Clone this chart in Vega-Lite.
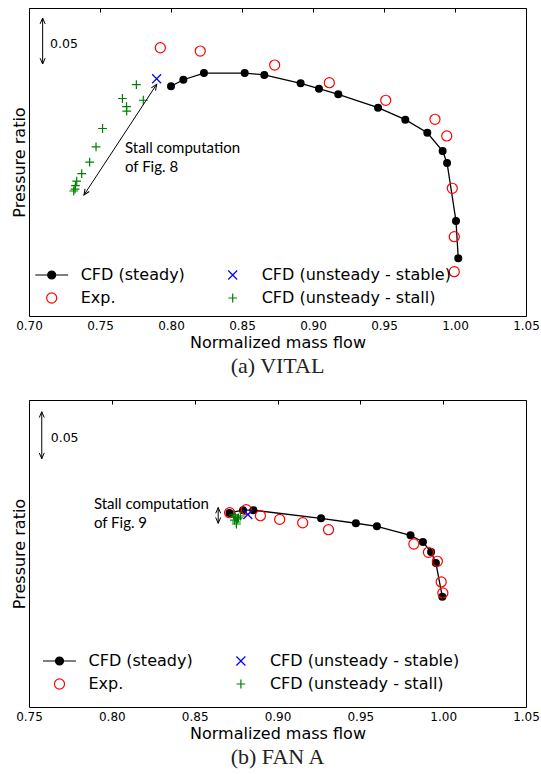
{
  "$schema": "https://vega.github.io/schema/vega-lite/v6.json",
  "padding": {"left": 10, "top": 7, "right": 0, "bottom": 0},
  "spacing": 21,
  "datasets": {
    "a_pts": [
      {"series": "CFD (steady)", "x": 0.8000, "y": 1.4497},
      {"series": "CFD (steady)", "x": 0.8087, "y": 1.4568},
      {"series": "CFD (steady)", "x": 0.8232, "y": 1.4641},
      {"series": "CFD (steady)", "x": 0.8519, "y": 1.4641},
      {"series": "CFD (steady)", "x": 0.8657, "y": 1.4620},
      {"series": "CFD (steady)", "x": 0.8913, "y": 1.4529},
      {"series": "CFD (steady)", "x": 0.9042, "y": 1.4471},
      {"series": "CFD (steady)", "x": 0.9178, "y": 1.4410},
      {"series": "CFD (steady)", "x": 0.9458, "y": 1.4264},
      {"series": "CFD (steady)", "x": 0.9650, "y": 1.4134},
      {"series": "CFD (steady)", "x": 0.9805, "y": 1.3992},
      {"series": "CFD (steady)", "x": 0.9913, "y": 1.3793},
      {"series": "CFD (steady)", "x": 0.9944, "y": 1.3663},
      {"series": "CFD (steady)", "x": 1.0007, "y": 1.3033},
      {"series": "CFD (steady)", "x": 1.0023, "y": 1.2627},
      {"series": "Exp.", "x": 0.7925, "y": 1.4916},
      {"series": "Exp.", "x": 0.8206, "y": 1.4880},
      {"series": "Exp.", "x": 0.8730, "y": 1.4728},
      {"series": "Exp.", "x": 0.9115, "y": 1.4536},
      {"series": "Exp.", "x": 0.9512, "y": 1.4345},
      {"series": "Exp.", "x": 0.9859, "y": 1.4138},
      {"series": "Exp.", "x": 0.9942, "y": 1.3957},
      {"series": "Exp.", "x": 0.9981, "y": 1.3388},
      {"series": "Exp.", "x": 0.9995, "y": 1.2862},
      {"series": "Exp.", "x": 0.9995, "y": 1.2482},
      {"series": "CFD (unsteady - stable)", "x": 0.7899, "y": 1.4579},
      {"series": "CFD (unsteady - stall)", "x": 0.7756, "y": 1.4514},
      {"series": "CFD (unsteady - stall)", "x": 0.7805, "y": 1.4345},
      {"series": "CFD (unsteady - stall)", "x": 0.7658, "y": 1.4364},
      {"series": "CFD (unsteady - stall)", "x": 0.7687, "y": 1.4277},
      {"series": "CFD (unsteady - stall)", "x": 0.7688, "y": 1.4228},
      {"series": "CFD (unsteady - stall)", "x": 0.7518, "y": 1.4038},
      {"series": "CFD (unsteady - stall)", "x": 0.7472, "y": 1.3839},
      {"series": "CFD (unsteady - stall)", "x": 0.7427, "y": 1.3672},
      {"series": "CFD (unsteady - stall)", "x": 0.7371, "y": 1.3547},
      {"series": "CFD (unsteady - stall)", "x": 0.7336, "y": 1.3467},
      {"series": "CFD (unsteady - stall)", "x": 0.7327, "y": 1.3418},
      {"series": "CFD (unsteady - stall)", "x": 0.7324, "y": 1.3380},
      {"series": "CFD (unsteady - stall)", "x": 0.7315, "y": 1.3359}
    ],
    "a_arrows": [
      {"kind": "scale", "x": 0.7096, "y": 1.5239, "x2": 0.7096, "y2": 1.4739},
      {"kind": "stall", "x": 0.7899, "y": 1.4518, "x2": 0.7387, "y2": 1.3315}
    ],
    "a_heads": [
      {"kind": "scale", "dir": "up", "x": 0.7096, "y": 1.5239},
      {"kind": "scale", "dir": "down", "x": 0.7096, "y": 1.4739},
      {"kind": "stall", "dir": "up", "x": 0.7899, "y": 1.4518},
      {"kind": "stall", "dir": "down", "x": 0.7387, "y": 1.3315}
    ],
    "a_text": [
      {"kind": "scale", "label": "0.05", "x": 0.7148, "y": 1.4953},
      {"kind": "note", "label": "Stall computation", "x": 0.7676, "y": 1.3826},
      {"kind": "note", "label": "of Fig. 8", "x": 0.7676, "y": 1.3623}
    ],
    "b_pts": [
      {"series": "CFD (steady)", "x": 0.8710, "y": 1.4064},
      {"series": "CFD (steady)", "x": 0.8792, "y": 1.4094},
      {"series": "CFD (steady)", "x": 0.8854, "y": 1.4094},
      {"series": "CFD (steady)", "x": 0.9263, "y": 1.4007},
      {"series": "CFD (steady)", "x": 0.9473, "y": 1.3955},
      {"series": "CFD (steady)", "x": 0.9600, "y": 1.3922},
      {"series": "CFD (steady)", "x": 0.9803, "y": 1.3827},
      {"series": "CFD (steady)", "x": 0.9878, "y": 1.3755},
      {"series": "CFD (steady)", "x": 0.9927, "y": 1.3649},
      {"series": "CFD (steady)", "x": 0.9956, "y": 1.3532},
      {"series": "CFD (steady)", "x": 0.9995, "y": 1.3172},
      {"series": "Exp.", "x": 0.8711, "y": 1.4067},
      {"series": "Exp.", "x": 0.8811, "y": 1.4099},
      {"series": "Exp.", "x": 0.8897, "y": 1.4035},
      {"series": "Exp.", "x": 0.9013, "y": 1.3996},
      {"series": "Exp.", "x": 0.9152, "y": 1.3960},
      {"series": "Exp.", "x": 0.9308, "y": 1.3886},
      {"series": "Exp.", "x": 0.9823, "y": 1.3734},
      {"series": "Exp.", "x": 0.9911, "y": 1.3646},
      {"series": "Exp.", "x": 0.9965, "y": 1.3550},
      {"series": "Exp.", "x": 0.9988, "y": 1.3330},
      {"series": "Exp.", "x": 0.9998, "y": 1.3213},
      {"series": "CFD (unsteady - stable)", "x": 0.8821, "y": 1.4048},
      {"series": "CFD (unsteady - stall)", "x": 0.8734, "y": 1.4043},
      {"series": "CFD (unsteady - stall)", "x": 0.8746, "y": 1.4021},
      {"series": "CFD (unsteady - stall)", "x": 0.8758, "y": 1.4000},
      {"series": "CFD (unsteady - stall)", "x": 0.8740, "y": 1.3989},
      {"series": "CFD (unsteady - stall)", "x": 0.8752, "y": 1.3968},
      {"series": "CFD (unsteady - stall)", "x": 0.8764, "y": 1.4011},
      {"series": "CFD (unsteady - stall)", "x": 0.8776, "y": 1.4032},
      {"series": "CFD (unsteady - stall)", "x": 0.8752, "y": 1.3947}
    ],
    "b_arrows": [
      {"kind": "scale", "x": 0.7577, "y": 1.5141, "x2": 0.7577, "y2": 1.4641},
      {"kind": "stall", "x": 0.8642, "y": 1.4122, "x2": 0.8642, "y2": 1.3954}
    ],
    "b_heads": [
      {"kind": "scale", "dir": "up", "x": 0.7577, "y": 1.5141},
      {"kind": "scale", "dir": "down", "x": 0.7577, "y": 1.4641},
      {"kind": "stall", "dir": "up", "x": 0.8642, "y": 1.4122},
      {"kind": "stall", "dir": "down", "x": 0.8642, "y": 1.3954}
    ],
    "b_text": [
      {"kind": "scale", "label": "0.05", "x": 0.7631, "y": 1.4859},
      {"kind": "note", "label": "Stall computation", "x": 0.7892, "y": 1.4160},
      {"kind": "note", "label": "of Fig. 9", "x": 0.7892, "y": 1.3954}
    ]
  },
  "resolve": {"scale": {"shape": "independent", "stroke": "independent", "fill": "independent"}},
  "vconcat": [
    {
      "width": 497,
      "height": 308,
      "title": {"text": "(a) VITAL", "orient": "bottom"},
      "encoding": {
        "x": {"field": "x", "type": "quantitative", "scale": {"domain": [0.7, 1.05], "nice": false, "zero": false}, "axis": null},
        "y": {"field": "y", "type": "quantitative", "scale": {"domain": [1.2, 1.5348], "nice": false, "zero": false},
              "axis": {"title": "Pressure ratio", "labels": false, "ticks": false, "domain": false, "titlePadding": 2, "minExtent": 0}}
      },
      "layer": [
        {
          "data": {"name": "a_pts"},
          "transform": [{"filter": "datum.series === 'CFD (steady)'"}],
          "mark": {"type": "line", "color": "black", "strokeWidth": 1.3},
          "encoding": {
            "x": {"field": "x", "type": "quantitative", "scale": {"domain": [0.7, 1.05], "nice": false, "zero": false},
                  "axis": {"orient": "bottom", "title": "Normalized mass flow", "values": [0.7, 0.75, 0.8, 0.85, 0.9, 0.95, 1.0, 1.05], "format": ".2f", "ticks": false, "domain": false, "labelFlush": false, "labelOverlap": false, "labelPadding": 4, "titlePadding": 3}}
          }
        },
        {
          "data": {"name": "a_pts"},
          "transform": [{"filter": "datum.series === 'CFD (steady)'"}],
          "mark": {"type": "circle", "color": "black", "size": 64, "opacity": 1},
          "encoding": {
            "x": {"field": "x", "type": "quantitative", "scale": {"domain": [0.7, 1.05], "nice": false, "zero": false},
                  "axis": {"orient": "top", "title": null, "values": [0.7, 0.75, 0.8, 0.85, 0.9, 0.95, 1.0, 1.05], "labels": false, "domain": false, "ticks": true, "tickSize": -4, "tickColor": "black"}}
          }
        },
        {
          "data": {"name": "a_pts"},
          "transform": [{"filter": "datum.series !== 'CFD (steady)'"}],
          "mark": {"type": "point", "size": 256, "strokeWidth": 1.2, "opacity": 1},
          "encoding": {
            "shape": {"field": "series", "type": "nominal",
              "scale": {"domain": ["CFD (steady)", "Exp.", "CFD (unsteady - stable)", "CFD (unsteady - stall)"],
                        "range": ["M-2.06,0L2.06,0M-0.5,0A0.5,0.5,0,1,1,0.5,0A0.5,0.5,0,1,1,-0.5,0", "M-0.63,0A0.63,0.63,0,1,1,0.63,0A0.63,0.63,0,1,1,-0.63,0", "M-0.56,-0.56L0.56,0.56M-0.56,0.56L0.56,-0.56", "M-0.55,0L0.55,0M0,-0.55L0,0.55"]},
              "legend": {"orient": "none", "legendX": 13.7, "legendY": 258, "columns": 2, "columnPadding": 38, "rowPadding": 6, "symbolSize": 256, "symbolStrokeWidth": 1.2, "labelOffset": 20, "title": null}},
            "stroke": {"field": "series", "type": "nominal",
              "scale": {"domain": ["CFD (steady)", "Exp.", "CFD (unsteady - stable)", "CFD (unsteady - stall)"], "range": ["black", "#ff0000", "#0000ff", "#008000"]},
              "legend": {"orient": "none", "legendX": 13.7, "legendY": 258, "columns": 2, "columnPadding": 38, "rowPadding": 6, "symbolSize": 256, "symbolStrokeWidth": 1.2, "labelOffset": 20, "title": null}},
            "fill": {"field": "series", "type": "nominal",
              "scale": {"domain": ["CFD (steady)", "Exp.", "CFD (unsteady - stable)", "CFD (unsteady - stall)"], "range": ["black", "transparent", "transparent", "transparent"]},
              "legend": {"orient": "none", "legendX": 13.7, "legendY": 258, "columns": 2, "columnPadding": 38, "rowPadding": 6, "symbolSize": 256, "symbolStrokeWidth": 1.2, "labelOffset": 20, "title": null}}
          }
        },
        {
          "data": {"name": "a_arrows"},
          "mark": {"type": "rule", "color": "black", "strokeWidth": 1},
          "encoding": {"x2": {"field": "x2"}, "y2": {"field": "y2"}}
        },
        {
          "data": {"name": "a_heads"},
          "transform": [{"filter": "datum.kind === 'scale' && datum.dir === 'up'"}],
          "mark": {"type": "point", "shape": "M-0.28,0.65L0,0L0.28,0.65", "size": 324, "filled": false, "stroke": "black", "strokeWidth": 1, "opacity": 1},
          "encoding": {}
        },
        {
          "data": {"name": "a_heads"},
          "transform": [{"filter": "datum.kind === 'scale' && datum.dir === 'down'"}],
          "mark": {"type": "point", "shape": "M-0.28,-0.65L0,0L0.28,-0.65", "size": 324, "filled": false, "stroke": "black", "strokeWidth": 1, "opacity": 1},
          "encoding": {}
        },
        {
          "data": {"name": "a_heads"},
          "transform": [{"filter": "datum.kind === 'stall' && datum.dir === 'up'"}],
          "mark": {"type": "point", "shape": "M-0.28,0.65L0,0L0.28,0.65", "size": 324, "filled": false, "stroke": "black", "strokeWidth": 1, "opacity": 1, "angle": 33.3},
          "encoding": {}
        },
        {
          "data": {"name": "a_heads"},
          "transform": [{"filter": "datum.kind === 'stall' && datum.dir === 'down'"}],
          "mark": {"type": "point", "shape": "M-0.28,-0.65L0,0L0.28,-0.65", "size": 324, "filled": false, "stroke": "black", "strokeWidth": 1, "opacity": 1, "angle": 33.3},
          "encoding": {}
        },
        {
          "data": {"name": "a_text"},
          "transform": [{"filter": "datum.kind === 'scale'"}],
          "mark": {"type": "text", "align": "left", "baseline": "middle", "font": "DejaVu Sans", "fontSize": 12.5, "color": "black"},
          "encoding": {"text": {"field": "label"}}
        },
        {
          "data": {"name": "a_text"},
          "transform": [{"filter": "datum.kind === 'note'"}],
          "mark": {"type": "text", "align": "left", "baseline": "middle", "font": "Lato", "fontSize": 15, "color": "black"},
          "encoding": {"text": {"field": "label"}}
        }
      ]
    },
    {
      "width": 497,
      "height": 307,
      "title": {"text": "(b) FAN A", "orient": "bottom"},
      "encoding": {
        "x": {"field": "x", "type": "quantitative", "scale": {"domain": [0.75, 1.05], "nice": false, "zero": false}, "axis": null},
        "y": {"field": "y", "type": "quantitative", "scale": {"domain": [1.2, 1.5266], "nice": false, "zero": false},
              "axis": {"title": "Pressure ratio", "labels": false, "ticks": false, "domain": false, "titlePadding": 2, "minExtent": 0}}
      },
      "layer": [
        {
          "data": {"name": "b_pts"},
          "transform": [{"filter": "datum.series === 'CFD (steady)'"}],
          "mark": {"type": "line", "color": "black", "strokeWidth": 1.3},
          "encoding": {
            "x": {"field": "x", "type": "quantitative", "scale": {"domain": [0.75, 1.05], "nice": false, "zero": false},
                  "axis": {"orient": "bottom", "title": "Normalized mass flow", "values": [0.75, 0.8, 0.85, 0.9, 0.95, 1.0, 1.05], "format": ".2f", "ticks": false, "domain": false, "labelFlush": false, "labelOverlap": false, "labelPadding": 4, "titlePadding": 3}}
          }
        },
        {
          "data": {"name": "b_pts"},
          "transform": [{"filter": "datum.series === 'CFD (steady)'"}],
          "mark": {"type": "circle", "color": "black", "size": 64, "opacity": 1},
          "encoding": {
            "x": {"field": "x", "type": "quantitative", "scale": {"domain": [0.75, 1.05], "nice": false, "zero": false},
                  "axis": {"orient": "top", "title": null, "values": [0.75, 0.8, 0.85, 0.9, 0.95, 1.0, 1.05], "labels": false, "domain": false, "ticks": true, "tickSize": -4, "tickColor": "black"}}
          }
        },
        {
          "data": {"name": "b_pts"},
          "transform": [{"filter": "datum.series !== 'CFD (steady)'"}],
          "mark": {"type": "point", "size": 256, "strokeWidth": 1.2, "opacity": 1},
          "encoding": {
            "shape": {"field": "series", "type": "nominal",
              "scale": {"domain": ["CFD (steady)", "Exp.", "CFD (unsteady - stable)", "CFD (unsteady - stall)"],
                        "range": ["M-2.06,0L2.06,0M-0.5,0A0.5,0.5,0,1,1,0.5,0A0.5,0.5,0,1,1,-0.5,0", "M-0.63,0A0.63,0.63,0,1,1,0.63,0A0.63,0.63,0,1,1,-0.63,0", "M-0.56,-0.56L0.56,0.56M-0.56,0.56L0.56,-0.56", "M-0.55,0L0.55,0M0,-0.55L0,0.55"]},
              "legend": {"orient": "none", "legendX": 21.5, "legendY": 252, "columns": 2, "columnPadding": 38.4, "rowPadding": 6, "symbolSize": 256, "symbolStrokeWidth": 1.2, "labelOffset": 20, "title": null}},
            "stroke": {"field": "series", "type": "nominal",
              "scale": {"domain": ["CFD (steady)", "Exp.", "CFD (unsteady - stable)", "CFD (unsteady - stall)"], "range": ["black", "#ff0000", "#0000ff", "#008000"]},
              "legend": {"orient": "none", "legendX": 21.5, "legendY": 252, "columns": 2, "columnPadding": 38.4, "rowPadding": 6, "symbolSize": 256, "symbolStrokeWidth": 1.2, "labelOffset": 20, "title": null}},
            "fill": {"field": "series", "type": "nominal",
              "scale": {"domain": ["CFD (steady)", "Exp.", "CFD (unsteady - stable)", "CFD (unsteady - stall)"], "range": ["black", "transparent", "transparent", "transparent"]},
              "legend": {"orient": "none", "legendX": 21.5, "legendY": 252, "columns": 2, "columnPadding": 38.4, "rowPadding": 6, "symbolSize": 256, "symbolStrokeWidth": 1.2, "labelOffset": 20, "title": null}}
          }
        },
        {
          "data": {"name": "b_arrows"},
          "mark": {"type": "rule", "color": "black", "strokeWidth": 1},
          "encoding": {"x2": {"field": "x2"}, "y2": {"field": "y2"}}
        },
        {
          "data": {"name": "b_heads"},
          "transform": [{"filter": "datum.dir === 'up'"}],
          "mark": {"type": "point", "shape": "M-0.28,0.65L0,0L0.28,0.65", "size": 324, "filled": false, "stroke": "black", "strokeWidth": 1, "opacity": 1},
          "encoding": {}
        },
        {
          "data": {"name": "b_heads"},
          "transform": [{"filter": "datum.dir === 'down'"}],
          "mark": {"type": "point", "shape": "M-0.28,-0.65L0,0L0.28,-0.65", "size": 324, "filled": false, "stroke": "black", "strokeWidth": 1, "opacity": 1},
          "encoding": {}
        },
        {
          "data": {"name": "b_text"},
          "transform": [{"filter": "datum.kind === 'scale'"}],
          "mark": {"type": "text", "align": "left", "baseline": "middle", "font": "DejaVu Sans", "fontSize": 12.5, "color": "black"},
          "encoding": {"text": {"field": "label"}}
        },
        {
          "data": {"name": "b_text"},
          "transform": [{"filter": "datum.kind === 'note'"}],
          "mark": {"type": "text", "align": "left", "baseline": "middle", "font": "Lato", "fontSize": 15, "color": "black"},
          "encoding": {"text": {"field": "label"}}
        }
      ]
    }
  ],
  "config": {
    "view": {"stroke": "black", "strokeWidth": 1},
    "axis": {"labelFont": "DejaVu Sans", "titleFont": "DejaVu Sans", "labelColor": "black", "titleColor": "black", "titleFontWeight": "normal", "titleFontSize": 16, "labelFontSize": 12, "grid": false},
    "legend": {"labelFont": "DejaVu Sans", "labelFontSize": 16, "labelColor": "black", "labelLimit": 400, "padding": 0},
    "title": {"font": "Liberation Serif", "fontSize": 22, "fontWeight": "normal", "color": "#222", "offset": 6}
  }
}
